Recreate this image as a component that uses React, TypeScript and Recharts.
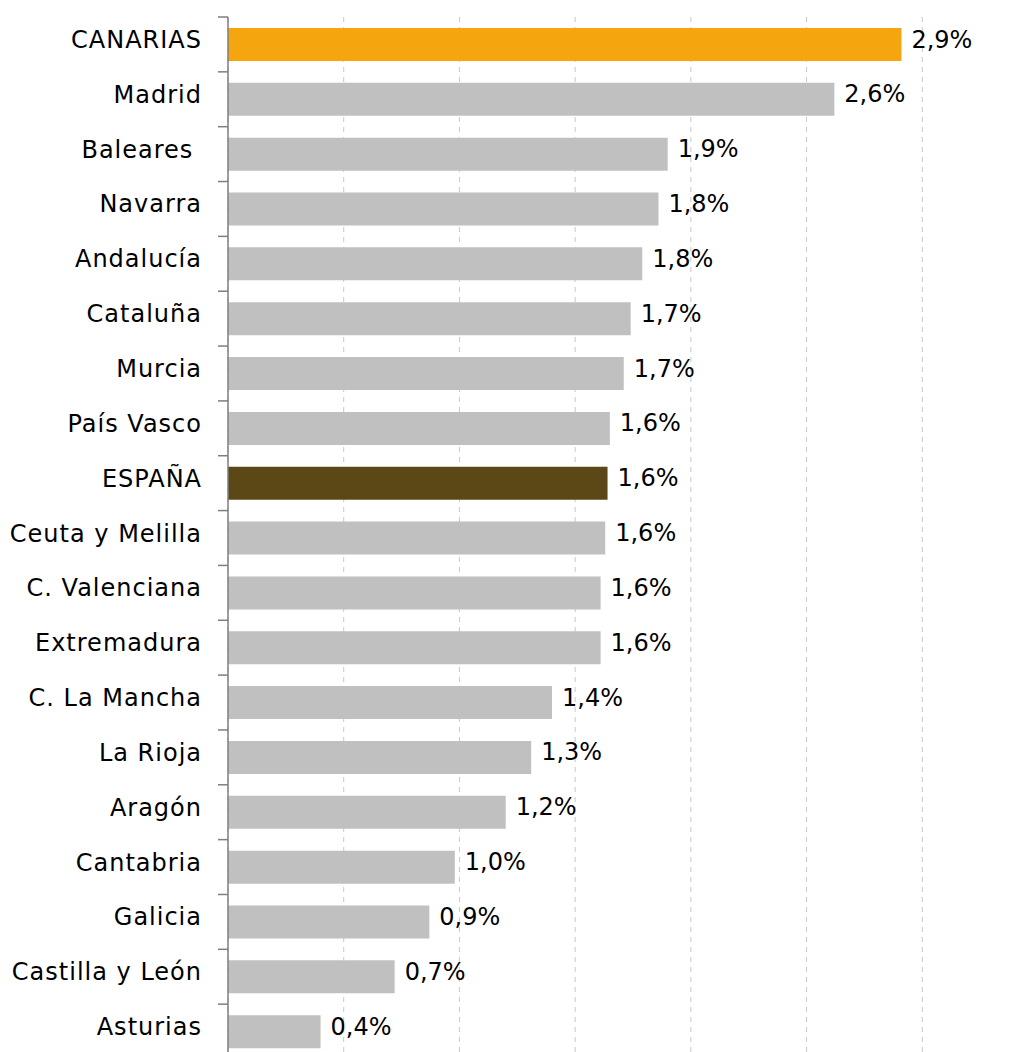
import React from "react";
import { BarChart, Bar, XAxis, YAxis, CartesianGrid, Cell, LabelList } from "recharts";

// Datos por comunidad (orden de arriba a abajo)
const categories = [
  "CANARIAS",
  "Madrid",
  "Baleares ",
  "Navarra",
  "Andalucía",
  "Cataluña",
  "Murcia",
  "País Vasco",
  "ESPAÑA",
  "Ceuta y Melilla",
  "C. Valenciana",
  "Extremadura",
  "C. La Mancha",
  "La Rioja",
  "Aragón",
  "Cantabria",
  "Galicia",
  "Castilla y León",
  "Asturias",
];

const values = [
  2.91, 2.62, 1.9, 1.86, 1.79, 1.74, 1.71, 1.65, 1.64, 1.63, 1.61, 1.61, 1.4, 1.31, 1.2, 0.98, 0.87, 0.72,
  0.4,
];

const labels = [
  "2,9%", "2,6%", "1,9%", "1,8%", "1,8%", "1,7%", "1,7%", "1,6%", "1,6%", "1,6%", "1,6%", "1,6%",
  "1,4%", "1,3%", "1,2%", "1,0%", "0,9%", "0,7%", "0,4%",
];

const gridTicks = [0.5, 1, 1.5, 2, 2.5, 3];

const colors = {
  highlight: "#F5A50D",
  spain: "#5C4716",
  bar: "#C0C0C0",
  axis: "#7F7F7F",
  grid: "#C8C8C8",
  text: "#000000",
};

const W = 1040;
const H = 1062;
const margin = { top: 17, right: 2, bottom: 3, left: 0 };
const AXIS_X = 228;
const BAND = (H - margin.top - margin.bottom) / categories.length;
const FONT = '"DejaVu Sans", sans-serif';

const data = categories.map((name, i) => ({ name, value: values[i], label: labels[i] }));

const barColor = (name: string) => {
  if (name === "CANARIAS") return colors.highlight;
  if (name === "ESPAÑA") return colors.spain;
  return colors.bar;
};

// tick label at band centre, tick mark at band boundary
const CategoryTick = ({ y, payload }: any) => (
  <g>
    <line x1={AXIS_X - 10} x2={AXIS_X} y1={y - BAND / 2} y2={y - BAND / 2} stroke={colors.axis} strokeWidth={1.5} />
    <text
      x={AXIS_X - 26}
      y={y + 3.5}
      textAnchor="end"
      xmlSpace="preserve"
      fill={colors.text}
      style={{ fontFamily: FONT, fontSize: 24, letterSpacing: 1 }}
    >
      {payload.value}
    </text>
  </g>
);

const ValueLabel = (props: any) => {
  const { x, y, width, height, value } = props;
  return (
    <text
      x={x + width + 10}
      y={y + height / 2 + 3}
      textAnchor="start"
      fill={colors.text}
      style={{ fontFamily: FONT, fontSize: 24 }}
    >
      {value}
    </text>
  );
};

export default function App() {
  return (
    <div
      style={{
        position: "absolute",
        top: 0,
        left: 0,
        width: 1026,
        height: 1052,
        overflow: "hidden",
        background: "#fff",
      }}
    >
      <BarChart width={W} height={H} data={data} layout="vertical" margin={margin}>
        <CartesianGrid horizontal={false} stroke={colors.grid} strokeDasharray="5 5" />
        <XAxis type="number" domain={[0, 3.5]} ticks={gridTicks} hide />
        <YAxis
          type="category"
          dataKey="name"
          width={AXIS_X}
          interval={0}
          axisLine={{ stroke: colors.axis, strokeWidth: 1.5 }}
          tickLine={false}
          tick={<CategoryTick />}
        />
        <Bar dataKey="value" barSize={33} isAnimationActive={false}>
          {data.map((d) => (
            <Cell key={d.name} fill={barColor(d.name)} />
          ))}
          <LabelList dataKey="label" content={<ValueLabel />} />
        </Bar>
      </BarChart>
    </div>
  );
}
